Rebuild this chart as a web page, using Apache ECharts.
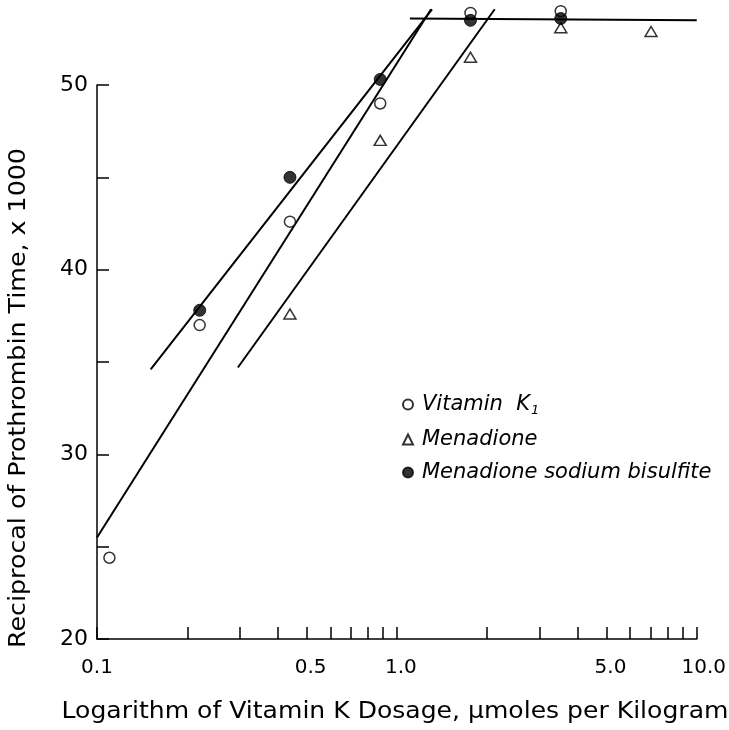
<!DOCTYPE html>
<html><head><meta charset="utf-8">
<script src="https://cdn.jsdelivr.net/npm/echarts@6/dist/echarts.min.js"></script>
<style>html,body{margin:0;padding:0;background:#fff}#c{width:729px;height:730px}</style>
</head><body><div id="c"></div>
<script>
// ---- data ----
const vitaminK1Dose = [0.11, 0.22, 0.44, 0.88, 1.76, 3.52];
const vitaminK1Val  = [24.4, 37.0, 42.6, 49.0, 53.9, 54.0];
const menadioneDose = [0.44, 0.88, 1.76, 3.52, 7.04];
const menadioneVal  = [37.6, 47.0, 51.5, 53.1, 52.9];
const bisulfiteDose = [0.22, 0.44, 0.88, 1.76, 3.52];
const bisulfiteVal  = [37.8, 45.0, 50.3, 53.5, 53.6];
const fitBisulfite = [[0.151, 34.6], [1.31, 54.1]];
const fitVitaminK1 = [[0.1, 25.5], [1.30, 54.1]];
const fitMenadione = [[0.295, 34.7], [2.12, 54.1]];
const fitPlateau   = [[1.105, 53.6], [10, 53.5]];
const xTickValues  = [0.1,0.2,0.3,0.4,0.5,0.6,0.7,0.8,0.9,1,2,3,4,5,6,7,8,9,10];
const xLabelValues = [0.1, 0.5, 1, 5, 10];
const yTickValues  = [20, 25, 30, 35, 40, 45, 50];
const yLabelValues = [20, 30, 40, 50];
const seriesNames = ['Vitamin K1', 'Menadione', 'Menadione sodium bisulfite'];

const zip = (a, b) => a.map((v, i) => [v, b[i]]);
const FONT = 'DejaVu Sans';
const chart = echarts.init(document.getElementById('c'), null, {renderer: 'canvas'});
const fitLine = (data) => ({
  type: 'line', data: data, symbol: 'none', clip: false, silent: true,
  lineStyle: {color: '#000', width: 2}, z: 2
});
chart.setOption({
  animation: false,
  backgroundColor: '#fff',
  grid: {left: 97, right: 32, top: 85, bottom: 91},
  xAxis: {
    type: 'log', logBase: 10, min: 0.1, max: 10,
    axisLine: {show: true, lineStyle: {color: '#000', width: 1.5}},
    axisTick: {show: true, inside: true, length: 12, customValues: xTickValues, lineStyle: {color: '#000', width: 1.5}},
    axisLabel: {customValues: xLabelValues, margin: 19, color: '#000', fontFamily: FONT, fontSize: 20,
      formatter: v => {
        const s = (+v).toFixed(1);
        if (+v > 9) return '{r|' + s + '}';
        if (+v > 0.3) return '{m|' + s + '}';
        return s;
      },
      rich: {
        m: {fontFamily: FONT, fontSize: 20, color: '#000', padding: [0, 0, 0, 8]},
        r: {fontFamily: FONT, fontSize: 20, color: '#000', padding: [0, 0, 0, 14]}
      }},
    splitLine: {show: false}, minorTick: {show: false}
  },
  yAxis: {
    type: 'value', min: 20, max: 50, interval: 5,
    axisLine: {show: true, lineStyle: {color: '#000', width: 1.5}},
    axisTick: {show: true, inside: true, length: 12, customValues: yTickValues, lineStyle: {color: '#000', width: 1.5}},
    axisLabel: {customValues: yLabelValues, margin: 9, color: '#000', fontFamily: FONT, fontSize: 22},
    splitLine: {show: false}
  },
  legend: {
    orient: 'vertical', left: 397, top: 389, itemGap: 12, itemWidth: 10, itemHeight: 10,
    data: seriesNames,
    textStyle: {fontFamily: FONT, fontSize: 21, fontStyle: 'italic', color: '#000',
      rich: {sub: {fontFamily: FONT, fontSize: 13, fontStyle: 'italic', padding: [12, 0, 0, 1], color: '#000'},
             t: {fontFamily: FONT, fontSize: 21, fontStyle: 'italic', color: '#000', padding: [0, 0, 0, 4]}}},
    formatter: n => n === 'Vitamin K1' ? '{t|Vitamin  K}{sub|1}' : '{t|' + n + '}'
  },
  graphic: [
    {type: 'text', x: 19, y: 398, rotation: Math.PI / 2, scaleX: 1.1,
     style: {text: 'Reciprocal of Prothrombin Time, x 1000', fill: '#000', font: '23px "DejaVu Sans"', align: 'center', verticalAlign: 'middle'}},
    {type: 'text', x: 395, y: 712, scaleX: 1.09,
     style: {text: 'Logarithm of Vitamin K Dosage, \u03bcmoles per Kilogram', fill: '#000', font: '23px "DejaVu Sans"', align: 'center', verticalAlign: 'middle'}}
  ],
  series: [
    fitLine(fitBisulfite), fitLine(fitVitaminK1), fitLine(fitMenadione), fitLine(fitPlateau),
    {name: seriesNames[0], type: 'scatter', clip: false, data: zip(vitaminK1Dose, vitaminK1Val),
     symbol: 'circle', symbolSize: 11, z: 3,
     itemStyle: {color: '#fff', borderColor: '#000', borderWidth: 1.5}},
    {name: seriesNames[1], type: 'scatter', clip: false, data: zip(menadioneDose, menadioneVal),
     symbol: 'triangle', symbolSize: [12, 10], z: 3,
     itemStyle: {color: '#fff', borderColor: '#000', borderWidth: 1.5}},
    {name: seriesNames[2], type: 'scatter', clip: false, data: zip(bisulfiteDose, bisulfiteVal),
     symbol: 'circle', symbolSize: 12, z: 4,
     itemStyle: {color: '#000', borderColor: '#000', borderWidth: 1}}
  ]
});
</script></body></html>
